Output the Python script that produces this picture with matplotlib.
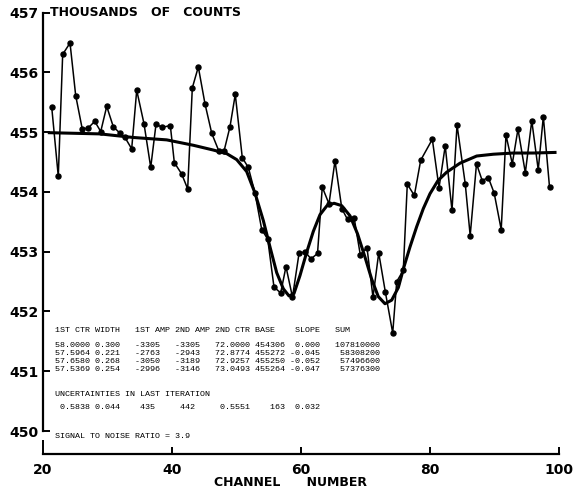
import numpy as np
import matplotlib.pyplot as plt

# measured data points (channel, thousands of counts)
channel = [21.35, 22.37, 23.05, 24.19, 25.07, 26.09, 27.02, 28.02, 28.95, 29.88,
           30.90, 31.94, 32.71, 33.75, 34.53, 35.66, 36.70, 37.52, 38.50, 39.74,
           40.36, 41.50, 42.43, 43.15, 44.08, 45.12, 46.16, 47.24, 48.06, 48.99,
           49.81, 50.90, 51.83, 52.87, 53.91, 54.84, 55.81, 56.85, 57.67, 58.68,
           59.69, 60.62, 61.55, 62.56, 63.30, 64.34, 65.27, 66.33, 67.21, 68.25,
           69.19, 70.23, 71.16, 72.05, 73.07, 74.22, 74.84, 75.86, 76.48, 77.57,
           78.56, 80.36, 81.40, 82.36, 83.41, 84.19, 85.47, 86.23, 87.21, 88.09,
           89.04, 89.95, 91.04, 91.78, 92.76, 93.64, 94.78, 95.78, 96.78, 97.57,
           98.53]
counts = [455.42, 454.26, 456.30, 456.49, 455.61, 455.05, 455.07, 455.18, 455.01, 455.43,
          455.09, 454.98, 454.91, 454.72, 455.70, 455.14, 454.41, 455.13, 455.08, 455.11,
          454.49, 454.30, 454.05, 455.74, 456.09, 455.47, 454.98, 454.69, 454.68, 455.09,
          455.63, 454.57, 454.41, 453.98, 453.37, 453.21, 452.41, 452.31, 452.75, 452.24,
          452.97, 453.00, 452.88, 452.97, 454.08, 453.80, 454.52, 453.72, 453.54, 453.56,
          452.95, 453.07, 452.24, 452.98, 452.33, 451.64, 452.50, 452.69, 454.13, 453.94,
          454.53, 454.88, 454.07, 454.77, 453.69, 455.12, 454.13, 453.27, 454.47, 454.19,
          454.24, 453.98, 453.37, 454.95, 454.47, 455.05, 454.32, 455.19, 454.37, 455.26,
          454.08]

# fitted curve
fit_channel = [20.98, 28.84, 34.00, 39.18, 43.30, 46.40, 48.48, 50.03, 51.58, 52.87,
               54.16, 55.19, 56.23, 57.26, 58.14, 58.91, 59.84, 60.88, 61.91, 62.95,
               64.03, 65.12, 66.31, 67.60, 68.76, 69.92, 70.96, 71.98, 73.02, 74.06,
               75.09, 75.97, 76.90, 77.94, 78.96, 80.00, 81.24, 82.59, 84.65, 87.24,
               89.81, 92.91, 95.97, 99.38]
fit_counts = [454.99, 454.97, 454.91, 454.87, 454.78, 454.70, 454.64, 454.54, 454.34, 453.98,
              453.52, 453.08, 452.65, 452.38, 452.26, 452.30, 452.60, 452.99, 453.34, 453.62,
              453.77, 453.81, 453.77, 453.60, 453.30, 452.91, 452.54, 452.25, 452.13, 452.19,
              452.40, 452.75, 453.08, 453.42, 453.72, 453.97, 454.19, 454.33, 454.48, 454.60,
              454.63, 454.65, 454.65, 454.66]

x_ticks = [20, 40, 60, 80, 100]
y_ticks = [450, 451, 452, 453, 454, 455, 456, 457]

table_header = "1ST CTR WIDTH   1ST AMP 2ND AMP 2ND CTR BASE    SLOPE   SUM"
table_rows = [
    "58.0000 0.300   -3305   -3305   72.0000 454306  0.000   107810000",
    "57.5964 0.221   -2763   -2943   72.8774 455272 -0.045    58308200",
    "57.6580 0.268   -3050   -3189   72.9257 455250 -0.052    57496600",
    "57.5369 0.254   -2996   -3146   73.0493 455264 -0.047    57376300",
]
unc_title = "UNCERTAINTIES IN LAST ITERATION"
unc_row = " 0.5838 0.044    435     442     0.5551    163  0.032"
snr_text = "SIGNAL TO NOISE RATIO = 3.9"

W, H = 576, 493
fig = plt.figure(figsize=(W / 100, H / 100), dpi=100)
ax = fig.add_axes([43 / W, 1 - 454.3 / H, (559 - 43) / W, (454.3 - 12.5) / H])

ax.plot(channel, counts, '-o', color='black', lw=1.1, ms=3.6)
ax.plot(fit_channel, fit_counts, '-', color='black', lw=2.2)

ax.set_xlim(20, 100)
ax.set_ylim(449.612, 457)
ax.set_xticks(x_ticks)
ax.set_yticks(y_ticks)
for s in ['top', 'right']:
    ax.spines[s].set_visible(False)
ax.spines['left'].set_linewidth(1.6)
ax.spines['bottom'].set_linewidth(1.6)
ax.spines['left'].set_bounds(450, 457)
ax.spines['bottom'].set_bounds(20, 100)

ax.tick_params(axis='both', direction='in', length=5, width=1.4, pad=3,
               labelsize=10)
ax.tick_params(axis='x', pad=6)
ax.xaxis.get_major_ticks()[0].tick1line.set_markersize(10)
for lab in ax.get_xticklabels() + ax.get_yticklabels():
    lab.set_fontweight('bold')

fig.text(50 / W, 1 - 12.3 / H, "THOUSANDS   OF   COUNTS", fontsize=9,
         fontweight='bold', ha='left', va='center')
fig.text(291 / W, 1 - 482 / H, "CHANNEL      NUMBER", fontsize=9,
         fontweight='bold', ha='center', va='center')

mono = dict(family='Liberation Mono', fontsize=6.05, ha='left', va='center')
x0 = 55 / W
fig.text(x0, 1 - 331 / H, table_header, **mono)
for i, row in enumerate(table_rows):
    fig.text(x0, 1 - (345.5 + 8.0 * i) / H, row, **mono)
fig.text(x0, 1 - 394.3 / H, unc_title, **mono)
fig.text(x0, 1 - 407.7 / H, unc_row, **mono)
fig.text(x0, 1 - 437 / H, snr_text, **mono)

fig.savefig('out.png', dpi=100)
